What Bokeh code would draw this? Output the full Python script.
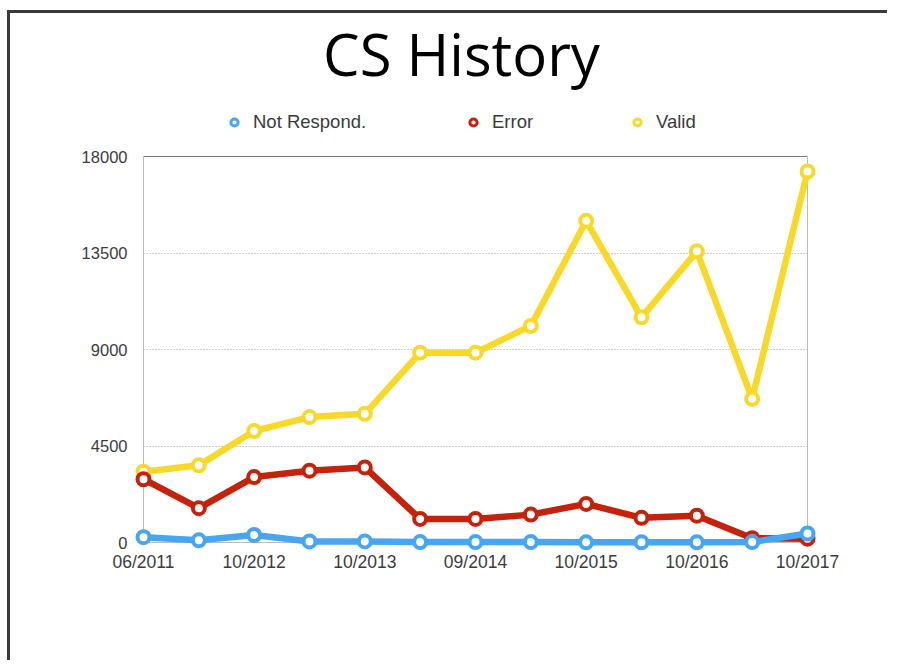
from bokeh.plotting import figure
from bokeh.models import Legend, LegendItem, FixedTicker, ColumnDataSource, Label, BoxAnnotation
from bokeh.embed import file_html
from bokeh.resources import INLINE

# ---- data ----
periods = ["06/2011", "", "10/2012", "", "10/2013", "", "09/2014", "",
           "10/2015", "", "10/2016", "", "10/2017"]
valid = [3300, 3600, 5200, 5850, 6000, 8850, 8850, 10100, 15000, 10500, 13580, 6700, 17300]
error = [2950, 1600, 3050, 3350, 3500, 1100, 1100, 1300, 1800, 1150, 1250, 200, 180]
not_respond = [250, 100, 350, 50, 50, 20, 20, 20, 10, 10, 10, 20, 420]
y_ticks = [0, 4500, 9000, 13500, 18000]
y_max = 18000

series = [
    ("Valid", valid, "#F8D92A"),
    ("Error", error, "#C4220A"),
    ("Not Respond.", not_respond, "#48A5F2"),
]

idx = list(range(len(periods)))

# frame spans from canvas top to the x axis; the chart box covers 0..y_max (386 px)
frame_h = 529
box_h = 386
p = figure(width=880, height=650, x_range=(0, len(periods) - 1),
           y_range=(0, y_max * frame_h / box_h),
           min_border_left=133, min_border_right=83, min_border_top=0, min_border_bottom=121,
           output_backend="svg", toolbar_location=None, title_location=None)
p.styles = {"border-top": "3px solid #3a3a3a", "border-left": "3px solid #3a3a3a",
            "margin-left": "7px", "margin-top": "10px"}

p.outline_line_color = None
p.background_fill_color = "white"
p.border_fill_color = "white"

# axes
p.xaxis.ticker = FixedTicker(ticks=[i for i, l in enumerate(periods) if l])
p.xaxis.major_label_overrides = {i: l for i, l in enumerate(periods) if l}
p.yaxis.ticker = FixedTicker(ticks=y_ticks)
for ax in (p.xaxis, p.yaxis):
    ax.axis_line_color = None
    ax.major_tick_line_color = None
    ax.minor_tick_line_color = None
    ax.major_label_text_font = "Liberation Sans"
    ax.major_label_text_color = "#3c3c3c"
p.xaxis.major_label_text_font_size = "17.5px"
p.yaxis.major_label_text_font_size = "16.5px"
p.xaxis.major_label_standoff = 3
p.yaxis.major_label_standoff = 10

p.xgrid.grid_line_color = None
p.ygrid.ticker = FixedTicker(ticks=y_ticks[1:-1])
p.ygrid.grid_line_color = "#9a9a9a"
p.ygrid.grid_line_dash = "1 2"
p.ygrid.grid_line_width = 1

# chart box
p.add_layout(BoxAnnotation(left=0, right=len(periods) - 1, bottom=0, top=y_max,
                           fill_alpha=0, line_color="#7a7a7a", line_alpha=1, line_width=1))

legend_renderers = {}
for name, vals, color in series:
    src = ColumnDataSource(dict(x=idx, y=vals))
    p.line("x", "y", source=src, line_color=color, line_width=6.5, level="overlay")
    p.scatter("x", "y", source=src, size=12, fill_color="white", line_color=color,
              line_width=4, level="overlay")
    r = p.scatter("x", "y", source=src, size=8, fill_color="white",
                  line_color=color, line_width=3)
    r.visible = False
    legend_renderers[name] = r

legend_pos = {"Not Respond.": 82, "Error": 321, "Valid": 485}
for name in ["Not Respond.", "Error", "Valid"]:
    lg = Legend(items=[LegendItem(label=name, renderers=[legend_renderers[name]])],
                location=(legend_pos[name], 409), orientation="horizontal",
                padding=0, margin=0, border_line_color=None, background_fill_alpha=0,
                inactive_fill_alpha=0, click_policy="none",
                glyph_width=18, glyph_height=20, label_height=20, label_standoff=10,
                label_text_font="Liberation Sans", label_text_font_size="18.5px",
                label_text_color="#3a3a3a")
    p.add_layout(lg)

p.add_layout(Label(x=318, y=489, x_units="screen", y_units="screen", text="CS History",
                   text_align="center", text_baseline="alphabetic",
                   text_font="Open Sans", text_font_size="58px", text_color="black"))

open("out.html", "w").write(file_html(p, INLINE))
